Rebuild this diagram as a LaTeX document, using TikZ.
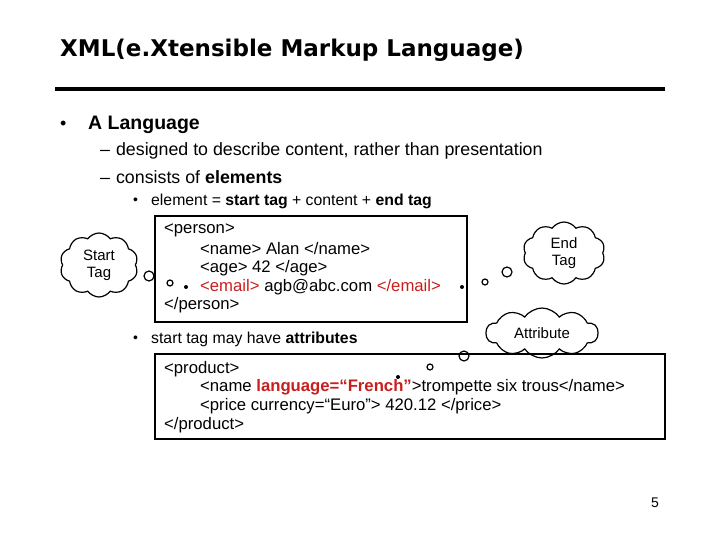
\documentclass[tikz,border=0pt]{standalone}
\usepackage{fontspec}
\setmainfont{Liberation Sans}
\newfontfamily\titlefont{DejaVu Sans}
\usetikzlibrary{shapes.symbols}
\definecolor{xred}{RGB}{200,30,30}
\begin{document}
\begin{tikzpicture}[x=1pt,y=-1pt,
  txt/.style={anchor=west,inner sep=0pt},
  codebox/.style={draw,line width=2.5pt},
  thought/.style={cloud,cloud puffs=10,cloud puff arc=110,draw,line width=1.2pt,align=center,font=\fontsize{15}{17}\selectfont,inner sep=0pt,aspect=1.3},
  bub/.style={draw,circle,line width=1.2pt,inner sep=0pt},
  dotb/.style={fill,circle,inner sep=0pt,minimum size=4pt}]
\useasboundingbox (0,0) rectangle (720,540);
\node[txt,font=\titlefont\bfseries\fontsize{23}{25}\selectfont] (title) at (60,50) {XML(e.Xtensible Markup Language)};
\draw[line width=4pt] (55,89) -- (665,89);
\node[txt,font=\fontsize{18}{20}\selectfont] (b0) at (60,125) {•};
\node[txt,font=\fontsize{19.5}{21}\selectfont] (b1) at (88,125) {\textbf{A Language}};
\node[txt,font=\fontsize{17.8}{20}\selectfont] (d1) at (100,151) {–\hspace{6pt}designed to describe content, rather than presentation};
\node[txt,font=\fontsize{17.8}{20}\selectfont] (d2) at (100,177) {–\hspace{6pt}consists of \textbf{elements}};
\node[txt,font=\fontsize{14}{16}\selectfont] (e0) at (133,201) {•};
\node[txt,font=\fontsize{15.8}{18}\selectfont] (e1) at (151,201) {element = \textbf{start tag} + content + \textbf{end tag}};
\draw[codebox] (155,216) rectangle (467,322);
\begin{scope}[font=\fontsize{16.7}{18}\selectfont]
\node[txt] (p1) at (164,230) {<person>};
\node[txt] (p2) at (200,249) {<name> Alan </name>};
\node[txt] (p3) at (200,268) {<age> 42 </age>};
\node[txt] (p4) at (200,287) {\textcolor{xred}{<email>} agb@abc.com \textcolor{xred}{</email>}};
\node[txt] (p5) at (164,305) {</person>};
\end{scope}
\node[thought,minimum width=78pt,minimum height=64pt] (st) at (99,265) {Start\\Tag};
\node[bub,minimum size=10pt] (sb1) at (149,276) {};
\node[bub,minimum size=6pt] (sb2) at (170,283) {};
\node[dotb] (sb3) at (186,287) {};
\node[thought,minimum width=82pt,minimum height=62pt] (et) at (564,253) {End\\Tag};
\node[dotb] (eb1) at (462,287) {};
\node[bub,minimum size=6pt] (eb2) at (485,282) {};
\node[bub,minimum size=10pt] (eb3) at (507,272) {};
\node[txt,font=\fontsize{14}{16}\selectfont] (e20) at (133,339) {•};
\node[txt,font=\fontsize{15.8}{18}\selectfont] (e2) at (151,339) {start tag may have \textbf{attributes}};
\node[thought,minimum width=112pt,minimum height=50pt,aspect=2.5] (at) at (542,333) {Attribute};
\node[bub,minimum size=10pt] (ab1) at (464,356) {};
\node[bub,minimum size=6pt] (ab2) at (430,367) {};
\node[dotb] (ab3) at (398,377) {};
\draw[codebox] (155,354) rectangle (665,439);
\begin{scope}[font=\fontsize{16.7}{18}\selectfont]
\node[txt] (q1) at (164,369) {<product>};
\node[txt] (q2) at (200,387) {<name \textcolor{xred}{\textbf{language=“French”}}>trompette six trous</name>};
\node[txt] (q3) at (200,406) {<price currency=“Euro”> 420.12 </price>};
\node[txt] (q4) at (164,425) {</product>};
\end{scope}
\node[font=\fontsize{14}{16}\selectfont] (pg) at (655,503) {5};
\end{tikzpicture}
\end{document}
